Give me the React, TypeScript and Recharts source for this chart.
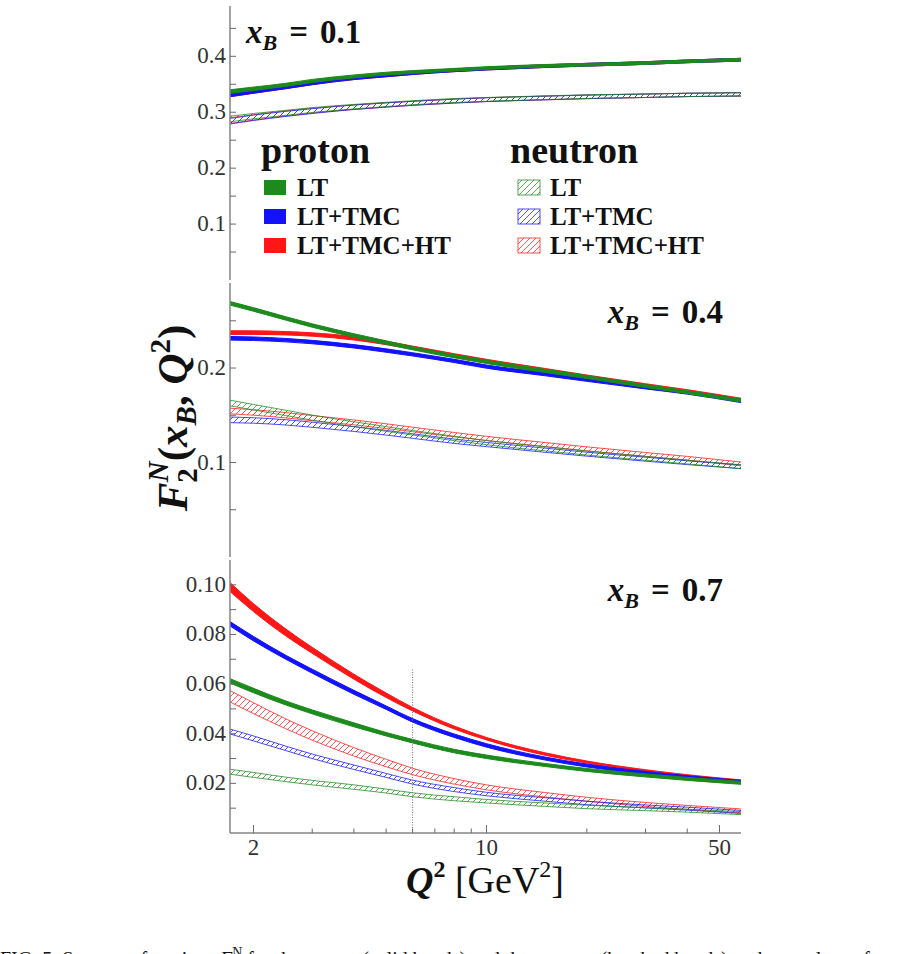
import React from 'react';
import { ComposedChart, Area, XAxis, YAxis, ReferenceLine } from 'recharts';

// Q^2 grid [GeV^2]
const Q2 = [1.7, 2, 2.5, 3, 4, 5, 6, 8, 10, 15, 20, 30, 40, 58];

// x_B = 0.1
const P1_LT = [0.337, 0.342, 0.349, 0.356, 0.364, 0.369, 0.372, 0.376, 0.379, 0.383, 0.385, 0.388, 0.391, 0.394];
const P1_TMC = [0.331, 0.337, 0.345, 0.352, 0.361, 0.366, 0.370, 0.375, 0.378, 0.3825, 0.385, 0.388, 0.391, 0.394];
const P1_HT = [0.331, 0.337, 0.345, 0.352, 0.361, 0.366, 0.370, 0.375, 0.378, 0.3825, 0.385, 0.388, 0.391, 0.394];
const N1_LT = [0.288, 0.293, 0.299, 0.304, 0.310, 0.314, 0.317, 0.321, 0.323, 0.326, 0.328, 0.3295, 0.331, 0.332];
const N1_TMC = [0.284, 0.290, 0.297, 0.302, 0.309, 0.313, 0.316, 0.320, 0.3225, 0.3255, 0.3275, 0.3295, 0.331, 0.332];
const N1_HT = [0.285, 0.291, 0.298, 0.303, 0.309, 0.313, 0.316, 0.320, 0.3225, 0.3255, 0.3275, 0.3295, 0.331, 0.332];
const P1_ERR = [0.0032, 0.003, 0.0028, 0.0027, 0.0026, 0.0025, 0.0025, 0.0024, 0.0024, 0.0024, 0.0024, 0.0024, 0.0024, 0.0024];
const N1_ERR = [0.005, 0.0048, 0.0045, 0.0043, 0.004, 0.0038, 0.0036, 0.0035, 0.0034, 0.0033, 0.0032, 0.0031, 0.003, 0.003];

// x_B = 0.4
const P2_LT = [0.2685, 0.262, 0.2525, 0.245, 0.2345, 0.227, 0.221, 0.2125, 0.2065, 0.197, 0.1905, 0.181, 0.1745, 0.1656];
const P2_TMC = [0.2315, 0.231, 0.2295, 0.2275, 0.223, 0.2185, 0.2145, 0.2075, 0.2015, 0.1935, 0.1875, 0.1795, 0.174, 0.165];
const P2_HT = [0.2375, 0.2375, 0.2368, 0.2355, 0.2315, 0.2265, 0.2215, 0.2135, 0.2075, 0.1978, 0.191, 0.1818, 0.1755, 0.1665];
const N2_LT = [0.163, 0.1585, 0.1525, 0.1475, 0.1405, 0.1355, 0.1315, 0.1255, 0.121, 0.1145, 0.110, 0.1045, 0.1005, 0.0955];
const N2_TMC = [0.1452, 0.1445, 0.1425, 0.140, 0.1355, 0.1315, 0.128, 0.1225, 0.119, 0.113, 0.1088, 0.1035, 0.0998, 0.0955];
const N2_HT = [0.1545, 0.153, 0.150, 0.147, 0.1425, 0.1385, 0.135, 0.1295, 0.1255, 0.119, 0.1145, 0.1085, 0.1045, 0.0985];
const P2_ERR = [0.0019, 0.0019, 0.0018, 0.0018, 0.0018, 0.0018, 0.0017, 0.0017, 0.0017, 0.0017, 0.0016, 0.0016, 0.0016, 0.0016];
const N2_ERR = [0.003, 0.0029, 0.0028, 0.0027, 0.0026, 0.0025, 0.0024, 0.0023, 0.0022, 0.0022, 0.0021, 0.0021, 0.002, 0.002];

// x_B = 0.7
const P3_LT = [0.0613, 0.0574, 0.0524, 0.0488, 0.0436, 0.0398, 0.0370, 0.0330, 0.0307, 0.0274, 0.0254, 0.0232, 0.0218, 0.0202];
const P3_TMC = [0.0843, 0.0783, 0.0708, 0.0652, 0.0567, 0.0505, 0.0454, 0.0392, 0.0353, 0.0300, 0.0272, 0.0242, 0.0225, 0.0206];
const P3_HT = [0.0991, 0.0908, 0.0808, 0.0736, 0.0630, 0.0555, 0.0499, 0.0425, 0.0380, 0.0318, 0.0286, 0.0251, 0.0231, 0.0210];
const N3_LT = [0.0247, 0.0234, 0.0216, 0.0203, 0.0185, 0.0169, 0.0154, 0.0138, 0.0128, 0.0114, 0.0105, 0.0096, 0.0090, 0.0080];
const N3_TMC = [0.0409, 0.0381, 0.0341, 0.0309, 0.0265, 0.0232, 0.0205, 0.0175, 0.0157, 0.0135, 0.0121, 0.0107, 0.0098, 0.0085];
const N3_HT = [0.0551, 0.0503, 0.0440, 0.0393, 0.0327, 0.0282, 0.0248, 0.0208, 0.0184, 0.0154, 0.0136, 0.0115, 0.0103, 0.0089];
const P3_ERR = [0.0009, 0.0009, 0.0008, 0.0008, 0.0008, 0.0007, 0.0007, 0.0007, 0.0007, 0.0006, 0.0006, 0.0006, 0.0006, 0.0006];
const P3_HT_ERR = [0.0018, 0.0016, 0.0014, 0.0012, 0.001, 0.0009, 0.0007, 0.0006, 0.0005, 0.0005, 0.0004, 0.0004, 0.0004, 0.0004];
const N3_ERR = [0.001, 0.001, 0.0009, 0.0009, 0.0009, 0.0008, 0.0008, 0.0008, 0.0007, 0.0007, 0.0007, 0.0006, 0.0006, 0.0006];
const N3_HT_ERR = [0.0023, 0.0022, 0.002, 0.0019, 0.0017, 0.0015, 0.0013, 0.0011, 0.001, 0.0009, 0.0008, 0.0008, 0.0008, 0.0008];

// axes
const X_DOMAIN = [1.7, 58];
const X_TICKS = [2, 3, 4, 5, 6, 7, 8, 9, 10, 20, 30, 40, 50];
const X_MAJOR = [2, 10, 50];
const Y1_TICKS = [0.05, 0.1, 0.15, 0.2, 0.25, 0.3, 0.35, 0.4, 0.45];
const Y1_LABELS = [0.1, 0.2, 0.3, 0.4];
const Y2_TICKS = [0.05, 0.1, 0.15, 0.2, 0.25];
const Y2_LABELS = [0.1, 0.2];
const Y3_TICKS = [0.01, 0.02, 0.03, 0.04, 0.05, 0.06, 0.07, 0.08, 0.09, 0.1];
const Y3_LABELS = [0.02, 0.04, 0.06, 0.08, 0.1];
const CUT_Q2 = 6;
const CUT_TOP = 0.066;

const GREEN = '#1c8a1c';
const BLUE = '#1212ff';
const RED = '#ff1616';
const FRAME = { stroke: '#858585', strokeWidth: 1.5 };
const SERIF = '"Liberation Serif", "DejaVu Serif", serif';

const band = (c: number[], e: number[]) => c.map((v, i) => [v - e[i], v + e[i]]);

function rows(series: Record<string, number[][]>) {
  return Q2.map((q, i) => {
    const r: any = { q };
    Object.keys(series).forEach((k) => (r[k] = series[k][i]));
    return r;
  });
}

const DATA1 = rows({
  nHT: band(N1_HT, N1_ERR), nTMC: band(N1_TMC, N1_ERR), nLT: band(N1_LT, N1_ERR),
  pHT: band(P1_HT, P1_ERR), pTMC: band(P1_TMC, P1_ERR), pLT: band(P1_LT, P1_ERR),
});
const DATA2 = rows({
  nHT: band(N2_HT, N2_ERR), nTMC: band(N2_TMC, N2_ERR), nLT: band(N2_LT, N2_ERR),
  pHT: band(P2_HT, P2_ERR), pTMC: band(P2_TMC, P2_ERR), pLT: band(P2_LT, P2_ERR),
});
const DATA3 = rows({
  nHT: band(N3_HT, N3_HT_ERR), nTMC: band(N3_TMC, N3_ERR), nLT: band(N3_LT, N3_ERR),
  pHT: band(P3_HT, P3_HT_ERR), pTMC: band(P3_TMC, P3_ERR), pLT: band(P3_LT, P3_ERR),
});

const SERIES = [
  { key: 'nHT', color: RED, hatch: 'hatch-r' },
  { key: 'nTMC', color: BLUE, hatch: 'hatch-b' },
  { key: 'nLT', color: GREEN, hatch: 'hatch-g' },
  { key: 'pHT', color: RED },
  { key: 'pTMC', color: BLUE },
  { key: 'pLT', color: GREEN },
];

const near = (arr: number[], v: number) => arr.some((a) => Math.abs(a - v) < 1e-6);

const XTick = (props: any) => {
  const { x, y, payload, dir, label } = props;
  const major = near(X_MAJOR, payload.value);
  const len = major ? 8 : 4.5;
  return (
    <g>
      <line x1={x} x2={x} y1={y} y2={y + dir * len} stroke="#6a6a6a" strokeWidth={1} />
      {label && major ? (
        <text x={x} y={y + 22} textAnchor="middle" style={{ fontFamily: SERIF }} fontSize={23} fill="#333">
          {payload.value}
        </text>
      ) : null}
    </g>
  );
};

const YTick = (props: any) => {
  const { x, y, payload, dir, labels, digits } = props;
  const show = labels && near(labels, payload.value);
  return (
    <g>
      <line x1={x} x2={x + dir * 6} y1={y} y2={y} stroke="#6a6a6a" strokeWidth={1} />
      {show ? (
        <text x={x - 4} y={y + 7} textAnchor="end" style={{ fontFamily: SERIF }} fontSize={23} fill="#333">
          {payload.value.toFixed(digits)}
        </text>
      ) : null}
    </g>
  );
};

function Panel(props: any) {
  const { top, plotTop, plotBottom, data, yDomain, yTicks, yLabels, digits, showX, cut } = props;
  const bottomH = showX ? 34 : 0;
  const height = plotBottom - top + bottomH;
  return (
    <div style={{ position: 'absolute', left: 0, top }}>
      <ComposedChart width={911} height={height} data={data} margin={{ top: plotTop - top, right: 170, bottom: 0, left: 170 }}>
        <XAxis xAxisId="b" dataKey="q" type="number" scale="log" domain={X_DOMAIN} allowDataOverflow ticks={X_TICKS}
          interval={0} tickSize={0} tickMargin={0} tickLine={false} height={bottomH} axisLine={FRAME}
          tick={(p: any) => <XTick {...p} dir={-1} label={showX} />} />
        <XAxis xAxisId="t" orientation="top" dataKey="q" type="number" scale="log" domain={X_DOMAIN} allowDataOverflow ticks={X_TICKS}
          interval={0} tickSize={0} tickMargin={0} tickLine={false} height={0} axisLine={FRAME}
          tick={(p: any) => <XTick {...p} dir={1} label={false} />} />
        <YAxis yAxisId="l" type="number" domain={yDomain} allowDataOverflow ticks={yTicks} interval={0} width={60}
          tickSize={0} tickMargin={0} tickLine={false} axisLine={FRAME}
          tick={(p: any) => <YTick {...p} dir={1} labels={yLabels} digits={digits} />} />
        <YAxis yAxisId="r" orientation="right" type="number" domain={yDomain} allowDataOverflow ticks={yTicks} interval={0} width={0}
          tickSize={0} tickMargin={0} tickLine={false} axisLine={FRAME}
          tick={(p: any) => <YTick {...p} dir={-1} labels={null} digits={digits} />} />
        {SERIES.map((s) => (
          <Area key={s.key} xAxisId="b" yAxisId="l" dataKey={s.key} type="monotone"
            stroke={s.color} strokeWidth={1} strokeOpacity={s.hatch ? 0.75 : 1}
            fill={s.hatch ? `url(#${s.hatch})` : s.color} fillOpacity={1}
            dot={false} activeDot={false} isAnimationActive={false} />
        ))}
        {cut ? (
          <ReferenceLine xAxisId="b" yAxisId="l" segment={[{ x: CUT_Q2, y: 0 }, { x: CUT_Q2, y: CUT_TOP }]}
            stroke="#777" strokeWidth={1} strokeDasharray="1 1.5" />
        ) : null}
      </ComposedChart>
    </div>
  );
}

const Hatch = ({ id, color }: { id: string; color: string }) => (
  <pattern id={id} patternUnits="userSpaceOnUse" width={6} height={6}>
    <path d="M0,6 L6,0 M-1,1 L1,-1 M5,7 L7,5" stroke={color} strokeOpacity={0.8} strokeWidth={0.9} />
  </pattern>
);

const LEGEND_ROWS = [
  { label: 'LT', color: GREEN, hatch: 'hatch-g' },
  { label: 'LT+TMC', color: BLUE, hatch: 'hatch-b' },
  { label: 'LT+TMC+HT', color: RED, hatch: 'hatch-r' },
];

const PanelLabel = ({ x, y, anchor, value }: { x: number; y: number; anchor: 'start' | 'end'; value: string }) => (
  <text x={x} y={y} fontSize={33} textAnchor={anchor} style={{ fontFamily: SERIF }} fontWeight="bold" fill="#111">
    <tspan fontStyle="italic">x</tspan>
    <tspan fontStyle="italic" fontSize={22} dy={7}>B</tspan>
    <tspan dy={-7} dx={12}>=</tspan>
    <tspan dx={12}>{value}</tspan>
  </text>
);

function Overlay() {
  const bold = { style: { fontFamily: SERIF }, fontWeight: 'bold' as const, fill: '#111' };
  return (
    <svg width={911} height={954} style={{ position: 'absolute', left: 0, top: 0, pointerEvents: 'none' }}>
      <PanelLabel x={246} y={43} anchor="start" value="0.1" />
      <PanelLabel x={723} y={323} anchor="end" value="0.4" />
      <PanelLabel x={723} y={601} anchor="end" value="0.7" />

      {/* legend */}
      <text x={261} y={163} fontSize={38} {...bold}>proton</text>
      <text x={510} y={163} fontSize={38} {...bold}>neutron</text>
      {LEGEND_ROWS.map((r, i) => {
        const base = 196 + i * 29;
        return (
          <g key={r.label}>
            <rect x={264} y={base - 16} width={22} height={15} fill={r.color} />
            <text x={297} y={base} fontSize={25} {...bold}>{r.label}</text>
            <rect x={518} y={base - 16} width={22} height={15} fill={`url(#${r.hatch})`} stroke={r.color} strokeOpacity={0.75} strokeWidth={1} />
            <text x={550} y={base} fontSize={25} {...bold}>{r.label}</text>
          </g>
        );
      })}

      {/* y axis title */}
      <text transform="translate(187,418) rotate(-90)" textAnchor="middle" fontSize={43} {...bold}>
        <tspan fontStyle="italic">F</tspan>
        <tspan fontSize={29} dy={10}>2</tspan>
        <tspan fontSize={29} fontStyle="italic" dx={-14} dy={-29}>N</tspan>
        <tspan dy={19}>(</tspan>
        <tspan fontStyle="italic">x</tspan>
        <tspan fontSize={29} fontStyle="italic" dy={9}>B</tspan>
        <tspan dy={-9}>, </tspan>
        <tspan fontStyle="italic">Q</tspan>
        <tspan fontSize={29} dy={-17}>2</tspan>
        <tspan dy={17}>)</tspan>
      </text>

      {/* x axis title */}
      <text x={485} y={893} textAnchor="middle" fontSize={38} style={{ fontFamily: SERIF }} fill="#111">
        <tspan fontStyle="italic" fontWeight="bold">Q</tspan>
        <tspan fontSize={24} fontWeight="bold" dy={-16}>2</tspan>
        <tspan dy={16}> [GeV</tspan>
        <tspan fontSize={24} dy={-16}>2</tspan>
        <tspan dy={16}>]</tspan>
      </text>

      {/* caption, cut off by the page edge as in the source */}
      <text x={0} y={966} fontSize={20} style={{ fontFamily: SERIF }} fill="#111">
        <tspan>FIG. 5. Structure functions </tspan>
        <tspan fontStyle="italic">F</tspan>
        <tspan fontSize={14} dy={-9}>N</tspan>
        <tspan dy={9}> for the proton (solid bands) and the neutron (hatched bands) at three values of x</tspan>
      </text>
    </svg>
  );
}

export default function App() {
  return (
    <div style={{ position: 'absolute', left: 0, top: 0, width: 911, height: 954, overflow: 'hidden', background: '#fff' }}>
      <svg width={0} height={0} style={{ position: 'absolute' }}>
        <defs>
          <Hatch id="hatch-g" color={GREEN} />
          <Hatch id="hatch-b" color={BLUE} />
          <Hatch id="hatch-r" color={RED} />
        </defs>
      </svg>
      <Panel top={0} plotTop={6} plotBottom={280} data={DATA1} yDomain={[0, 0.49]} yTicks={Y1_TICKS} yLabels={Y1_LABELS} digits={1} showX={false} />
      <Panel top={278} plotTop={283} plotBottom={557} data={DATA2} yDomain={[0, 0.29]} yTicks={Y2_TICKS} yLabels={Y2_LABELS} digits={1} showX={false} />
      <Panel top={555} plotTop={560} plotBottom={833} data={DATA3} yDomain={[0, 0.11]} yTicks={Y3_TICKS} yLabels={Y3_LABELS} digits={2} showX cut />
      <Overlay />
    </div>
  );
}
